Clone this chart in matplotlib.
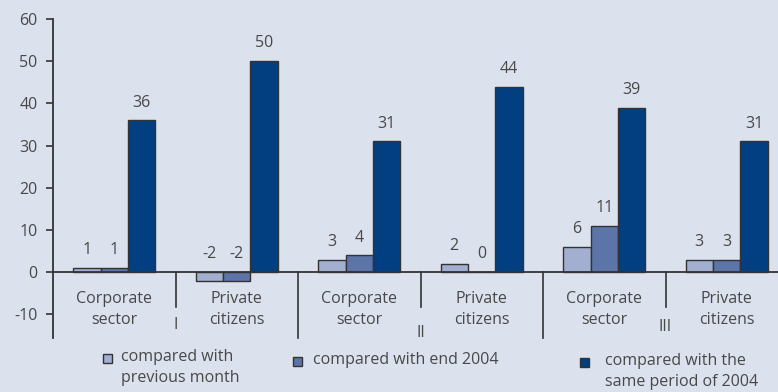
import matplotlib.pyplot as plt
from matplotlib.patches import Rectangle

plt.rcParams['font.family'] = ['Open Sans', 'DejaVu Sans']
plt.rcParams['axes.unicode_minus'] = False

# Categories and values (per cent)
categories = ['Corporate\nsector', 'Private\ncitizens'] * 3
periods = ['I', 'II', 'III']
prev_month = [1, -2, 3, 2, 6, 3]
end_2004 = [1, -2, 4, 0, 11, 3]
same_period_2004 = [36, 50, 31, 44, 39, 31]
series_labels = ['compared with\nprevious month', 'compared with end 2004',
                 'compared with the\nsame period of 2004']

bg = '#dce1ee'
colors = ['#a2afd0', '#5d74a8', '#023f80']
txt = '#484848'
line = '#333333'
fs = 11.5

fig = plt.figure(figsize=(7.78, 3.92), dpi=100, facecolor=bg)
ax = fig.add_axes([53 / 778, 1 - 338 / 392, 1 - 53 / 778, (338 - 19) / 392])
ax.set_facecolor(bg)

w = 0.224
offsets = [-w, 0, w]
for k, vals in enumerate([prev_month, end_2004, same_period_2004]):
    for i, v in enumerate(vals):
        x = i + 0.5 + offsets[k]
        ax.bar(x, v, width=w, color=colors[k], edgecolor=line, linewidth=1.0, zorder=2)
        ax.annotate(f'{v}', (x, max(v, 0)), xytext=(0, 7), textcoords='offset points',
                    ha='center', va='bottom', fontsize=fs, color=txt)

ax.set_xlim(0, 725 / 122.5)
ax.set_ylim(-15.6, 60)
ax.axhline(0, color=line, lw=1.3, zorder=3)

# separators below the zero line
for i in range(1, 6):
    bottom = -15.6 if i % 2 == 0 else -8.3
    ax.plot([i, i], [0, bottom], color=line, lw=1.2, clip_on=False)

for i, c in enumerate(categories):
    ax.text(i + 0.5, -8.8, c, ha='center', va='center', fontsize=fs,
            color=txt, linespacing=1.45)

for p, (x, y) in zip(periods, [(1, -12.6), (3, -14.5), (5, -13.0)]):
    ax.text(x, y, p, ha='center', va='center', fontsize=fs, color=txt)

ax.set_yticks(range(-10, 61, 10))
ax.set_xticks([])
ax.tick_params(axis='y', length=5, width=1.2, color=line, labelcolor=txt,
               labelsize=fs, pad=6)
for s in ['top', 'right', 'bottom']:
    ax.spines[s].set_visible(False)
ax.spines['left'].set_color(line)
ax.spines['left'].set_linewidth(1.3)

# legend
leg_pos = [(103, 358, 121), (293, 361, 313), (580, 362, 605)]
for (sx, sy, tx), c, lab in zip(leg_pos, colors, series_labels):
    fig.patches.append(Rectangle((sx / 778, 1 - (sy + 4.5) / 392), 9 / 778, 9 / 392,
                                 transform=fig.transFigure, facecolor=c,
                                 edgecolor=line, linewidth=1.0))
    fig.text(tx / 778, 1 - (sy - 9) / 392, lab, ha='left', va='top',
             fontsize=fs, color=txt, linespacing=1.45)

fig.savefig('out.png', dpi=100, facecolor=bg)
